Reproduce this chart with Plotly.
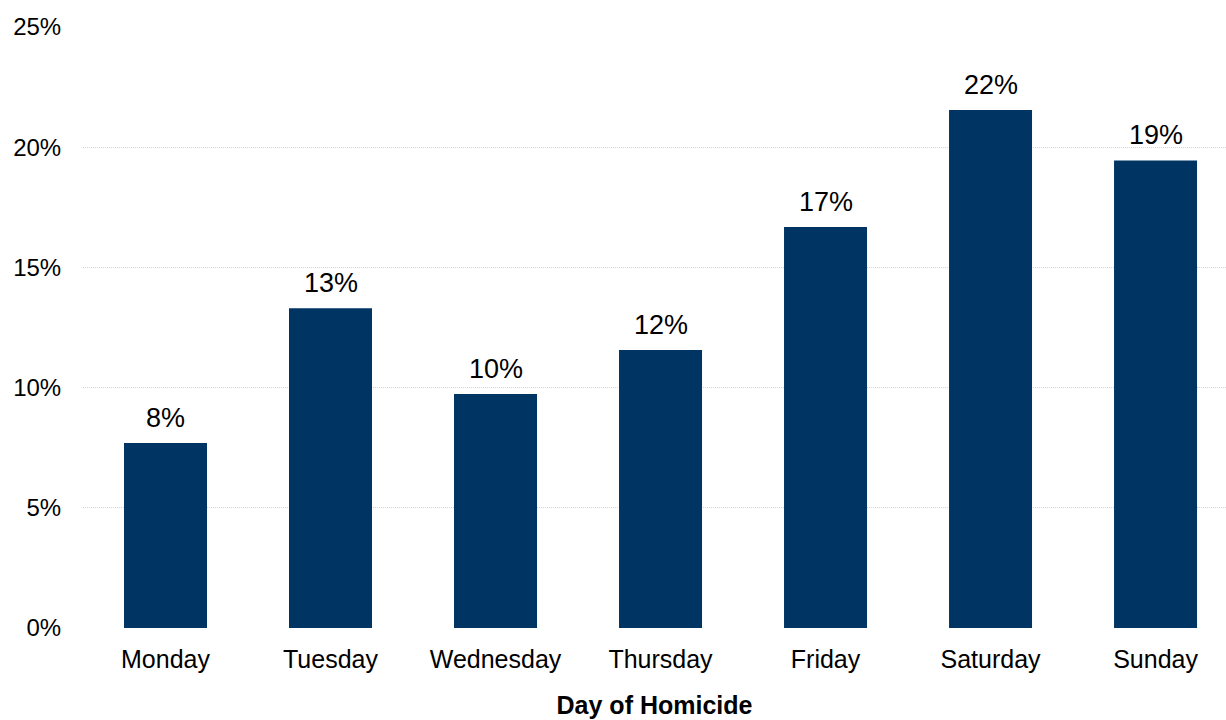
import plotly.graph_objects as go

days = ["Monday", "Tuesday", "Wednesday", "Thursday", "Friday", "Saturday", "Sunday"]
share_pct = [7.7, 13.3, 9.73, 11.56, 16.68, 21.55, 19.45]
y_ticks = [0, 5, 10, 15, 20, 25]
y_tick_labels = ["0%", "5%", "10%", "15%", "20%", "25%"]

FONT = "Liberation Sans, Arial, sans-serif"

fig = go.Figure(
    go.Bar(
        x=days,
        y=share_pct,
        marker=dict(color="#003462", line=dict(width=0)),
        hoverinfo="skip",
    )
)

for d, v in zip(days, share_pct):
    fig.add_annotation(
        x=d,
        y=v,
        text=f"{v:.0f}%",
        showarrow=False,
        yanchor="bottom",
        yshift=8,
        font=dict(family=FONT, size=27, color="#000000"),
    )

fig.update_layout(
    width=1226,
    height=720,
    paper_bgcolor="white",
    plot_bgcolor="white",
    margin=dict(l=83, r=0, t=27, b=92),
    bargap=0.497,
    showlegend=False,
    font=dict(family=FONT, color="#000000"),
)

fig.update_xaxes(
    range=[-0.5, 6.427],
    automargin=False,
    showgrid=False,
    showline=False,
    zeroline=False,
    ticks="outside",
    ticklen=9,
    tickcolor="rgba(0,0,0,0)",
    tickfont=dict(family=FONT, size=25),
    title=dict(text="<b>Day of Homicide</b>", font=dict(family=FONT, size=25), standoff=24),
)

fig.update_yaxes(
    range=[0, 25],
    automargin=False,
    tickvals=y_ticks,
    ticktext=y_tick_labels,
    showgrid=True,
    gridcolor="#d4d4d4",
    gridwidth=1,
    griddash="1px,1px",
    zeroline=False,
    showline=False,
    ticks="outside",
    ticklen=16,
    tickcolor="rgba(0,0,0,0)",
    tickfont=dict(family=FONT, size=24),
)

fig.write_html(
    "out.html",
    config={"displayModeBar": False},
    post_script="document.body.style.margin='0';",
)
